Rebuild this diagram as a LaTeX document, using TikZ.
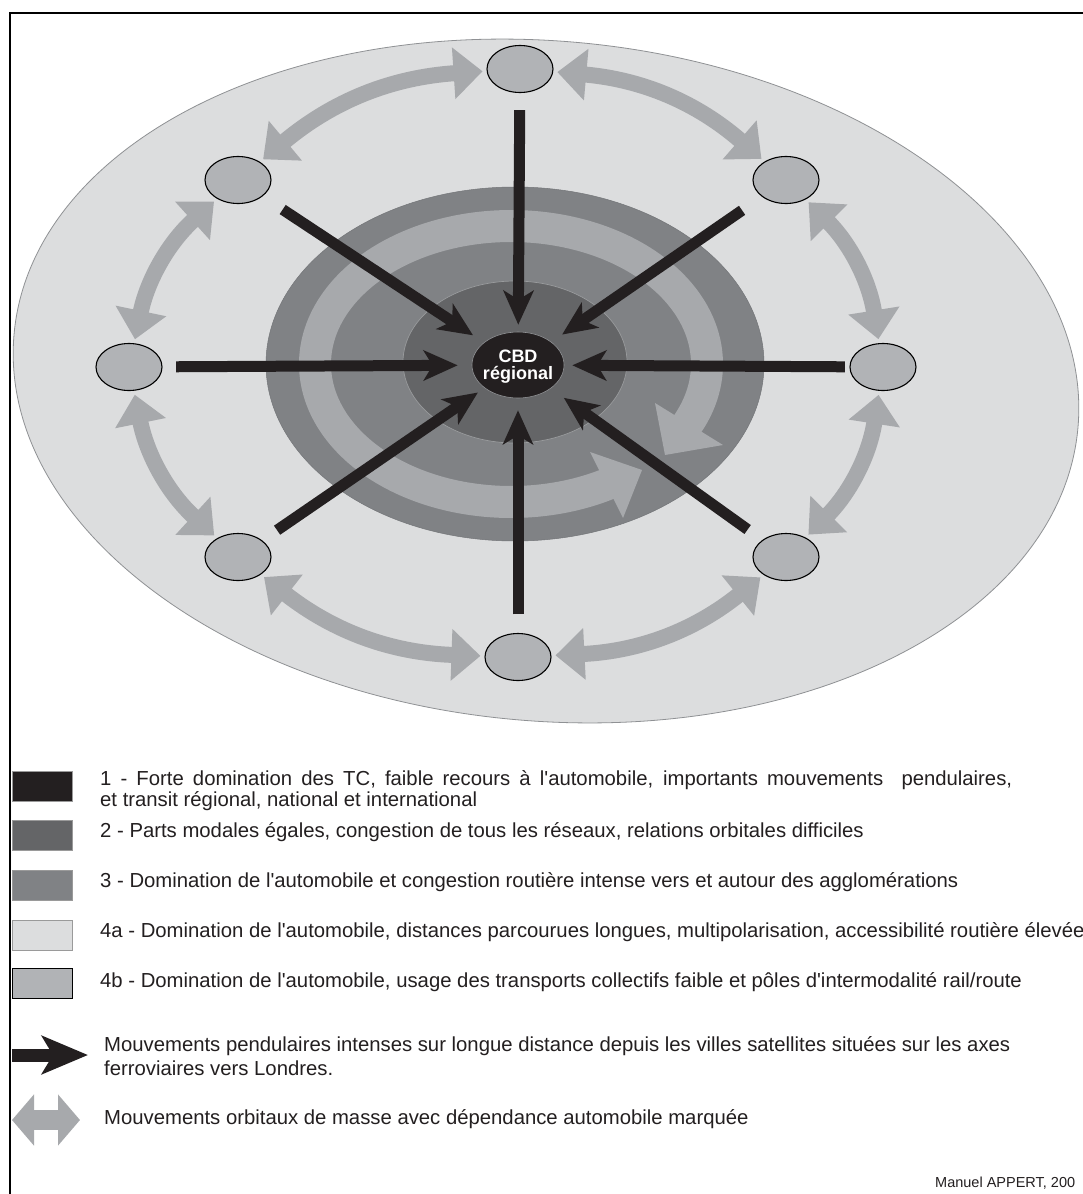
\documentclass[tikz,border=0pt]{standalone}
\usepackage{fontspec}
\setmainfont{Liberation Sans}[Ligatures=TeXOff]
\usetikzlibrary{arrows.meta,shapes.geometric}
\definecolor{cblack}{HTML}{231F20}
\definecolor{cdark}{HTML}{646567}
\definecolor{cmid}{HTML}{808285}
\definecolor{cband}{HTML}{A7A9AC}
\definecolor{cout}{HTML}{DCDDDE}
\definecolor{csat}{HTML}{B1B3B6}
\definecolor{cedge}{HTML}{8F9194}
\definecolor{cboxedge}{HTML}{9A9A9A}
\begin{document}
\begin{tikzpicture}[x=1pt,y=-1pt,
  sat/.style={ellipse, draw=black, line width=1.1pt, fill=csat, minimum width=66pt, minimum height=47pt, inner sep=0pt},
  commute/.style={draw=cblack, line width=11pt, -{Stealth[width=30pt,length=34pt,inset=9pt]}},
  orbit/.style={draw=cband, line width=16pt, {Triangle[width=50pt,length=29pt]}-{Triangle[width=50pt,length=29pt]}, shorten <=4pt, shorten >=4pt},
  legtext/.style={anchor=base west, inner sep=0pt, font=\fontsize{20.3}{23}\selectfont, text=cblack},
  legbox/.style={minimum width=60pt, minimum height=30pt, inner sep=0pt, line width=0.8pt, anchor=north west},
  cbdtext/.style={inner sep=0pt, text=white, font=\bfseries\fontsize{18}{18}\selectfont}]
\useasboundingbox (0,0) rectangle (1083,1194);
\clip (0,0) rectangle (1083,1194);
\fill[white] (0,0) rectangle (1083,1194);
% frame
\draw[line width=2.6pt] (10,1200) -- (10,13) -- (1100,13);
% outer zone 4a
\filldraw[fill=cout, draw=cedge, line width=0.8pt, rotate around={-5:(546,381)}] (546,381) ellipse [x radius=534, y radius=340];
% zone 3
\filldraw[fill=cmid, draw=cmid!90!black, line width=0.5pt] (515,364) ellipse [x radius=249, y radius=177];
% circular band with arrowheads
\draw[cband, line width=32pt] plot[domain=-302:28, samples=160, smooth] ({511+196*cos(\x)},{364+138*sin(\x)});
\fill[cband] (655,403) -- (723,445) -- (665,455) -- cycle;
\fill[cband] (590,452) -- (623,518) -- (642,470) -- cycle;
% zone 2
\filldraw[fill=cdark, draw=cmid!80!white, line width=0.7pt] (515,362) ellipse [x radius=112, y radius=81];
% satellites
\node[sat] (T) at (520,69) {};
\node[sat] (TL) at (238,180) {};
\node[sat] (TR) at (786,180) {};
\node[sat] (L) at (129,367) {};
\node[sat] (R) at (883,367) {};
\node[sat] (BL) at (238,557) {};
\node[sat] (BR) at (786,557) {};
\node[sat] (B) at (518,657) {};
% CBD
\node[ellipse, fill=cblack, draw=cedge, line width=0.6pt, minimum width=92pt, minimum height=66pt, inner sep=0pt] (CBD) at (518,365) {};
\node[cbdtext, anchor=base] (cbd1) at (518,362) {CBD};
\node[cbdtext, anchor=base] (cbd2) at (518,379) {régional};
% orbital arrows
\draw[orbit] (TL) to[bend left=18] (T);
\draw[orbit] (T) to[bend left=18] (TR);
\draw[orbit] (TR) to[bend left=18] (R);
\draw[orbit] (R) to[bend left=18] (BR);
\draw[orbit] (BR) to[bend left=18] (B);
\draw[orbit] (B) to[bend left=18] (BL);
\draw[orbit] (BL) to[bend left=18] (L);
\draw[orbit] (L) to[bend left=18] (TL);
% commuting arrows
\draw[commute, shorten <=17pt, shorten >=7pt] (T) -- (CBD);
\draw[commute, shorten <=18.5pt, shorten >=12pt] (B) -- (CBD);
\draw[commute, shorten <=13.5pt, shorten >=14pt] (L) -- (CBD);
\draw[commute, shorten <=4.5pt, shorten >=8pt] (R) -- (CBD);
\draw[commute, shorten <=24pt, shorten >=13pt] (TL) -- (CBD);
\draw[commute, shorten <=24pt, shorten >=13pt] (TR) -- (CBD);
\draw[commute, shorten <=18pt, shorten >=8pt] (BL) -- (CBD);
\draw[commute, shorten <=18pt, shorten >=16pt] (BR) -- (CBD);
% legend
\node[legbox, fill=cblack, draw=cboxedge] (k1) at (12,771) {};
\node[legbox, fill=cdark, draw=cboxedge] (k2) at (12,820) {};
\node[legbox, fill=cmid, draw=cboxedge] (k3) at (12,870) {};
\node[legbox, fill=cout, draw=cboxedge] (k4a) at (12,920) {};
\node[legbox, fill=csat, draw=black] (k4b) at (12,968) {};
\node[legtext] (t1) at (100,785) {\makebox[912pt][s]{1 - Forte domination des TC, faible recours à l'automobile, importants mouvements\ \ pendulaires,}};
\node[legtext] (t1b) at (100,806) {et transit régional, national et international};
\node[legtext] (t2) at (100,837) {2 - Parts modales égales, congestion de tous les réseaux, relations orbitales difficiles};
\node[legtext] (t3) at (100,887) {3 - Domination de l'automobile et congestion routière intense vers et autour des agglomérations};
\node[legtext] (t4a) at (100,937) {4a - Domination de l'automobile, distances parcourues longues, multipolarisation, accessibilité routière élevée};
\node[legtext] (t4b) at (100,987) {4b - Domination de l'automobile, usage des transports collectifs faible et pôles d'intermodalité rail/route};
\coordinate (la1) at (12,1055);
\coordinate (la2) at (88,1055);
\draw[cblack, line width=13pt, -{Stealth[width=38pt,length=46pt,inset=11pt]}] (la1) -- (la2);
\node[legtext] (t5) at (104,1051) {Mouvements pendulaires intenses sur longue distance depuis les villes satellites situées sur les axes};
\node[legtext] (t5b) at (104,1075) {ferroviaires vers Londres.};
\coordinate (lb1) at (12,1120);
\coordinate (lb2) at (80,1120);
\draw[cband, line width=20pt, {Triangle[width=50pt,length=22pt]}-{Triangle[width=50pt,length=22pt]}] (lb1) -- (lb2);
\node[legtext] (t6) at (104,1124) {Mouvements orbitaux de masse avec dépendance automobile marquée};
\node[anchor=base west, inner sep=0pt, font=\fontsize{14.5}{16}\selectfont, text=cblack] (credit) at (935,1187) {Manuel APPERT, 200};
\end{tikzpicture}
\end{document}
